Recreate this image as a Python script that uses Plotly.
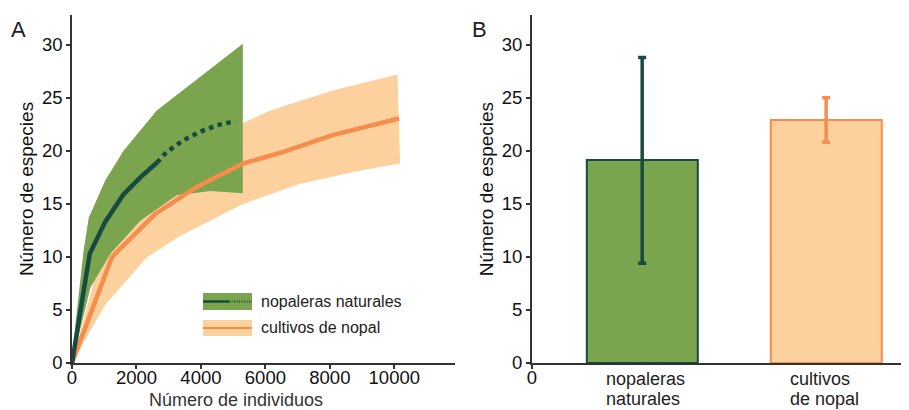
import plotly.graph_objects as go

# ---- Panel A data (rarefaction curves) ----
nat_upper_x = [0, 120, 360, 520, 1030, 1600, 2630, 3770, 5300]
nat_upper_y = [0, 4.0, 10.6, 13.7, 17.2, 20.0, 23.8, 26.5, 30.1]
nat_lower_x = [0, 570, 1190, 2120, 3250, 4290, 5300]
nat_lower_y = [0, 7.1, 10.3, 13.4, 15.8, 16.2, 16.0]
nat_obs_x = [0, 550, 1030, 1600, 2120, 2640]
nat_obs_y = [0, 10.3, 13.3, 15.9, 17.5, 18.9]
nat_ext_x = [2640, 2940, 3460, 3980, 4490, 5060]
nat_ext_y = [18.9, 19.9, 21.0, 21.8, 22.4, 22.8]

cul_x = [0, 1240, 2580, 3870, 5300, 6560, 8110, 9140, 10150]
cul_y = [0, 10.0, 14.05, 16.6, 18.8, 19.9, 21.5, 22.3, 23.05]
cul_upper_x = [0, 1100, 2100, 3400, 5300, 6150, 8110, 9140, 10100]
cul_upper_y = [0, 12.5, 16.5, 19.5, 22.6, 23.8, 25.7, 26.5, 27.2]
cul_lower_x = [0, 1030, 2320, 3360, 5320, 7080, 9040, 10180]
cul_lower_y = [0, 5.5, 9.95, 12.0, 15.0, 16.9, 18.2, 18.8]

x_ticks = [0, 2000, 4000, 6000, 8000, 10000]
y_ticks = [0, 5, 10, 15, 20, 25, 30]

# ---- Panel B data ----
categories = [["nopaleras", "naturales"], ["cultivos", "de nopal"]]
cat_pos = [1, 2]
means = [19.1, 22.9]
errors = [9.7, 2.1]

GREEN = "#7ba44f"
DARK = "#174a40"
ORANGE = "#f78c4c"
LIGHT = "#fdd19e"
AXC = "#333333"
FONT = "Liberation Sans, Arial, sans-serif"

fig = go.Figure()

fig.add_trace(go.Scatter(
    x=cul_upper_x + cul_lower_x[::-1], y=cul_upper_y + cul_lower_y[::-1],
    fill="toself", fillcolor=LIGHT, line=dict(width=0), mode="lines",
    showlegend=False, hoverinfo="skip", xaxis="x", yaxis="y"))
fig.add_trace(go.Scatter(
    x=nat_upper_x + nat_lower_x[::-1], y=nat_upper_y + nat_lower_y[::-1],
    fill="toself", fillcolor=GREEN, line=dict(width=0), mode="lines",
    showlegend=False, hoverinfo="skip", xaxis="x", yaxis="y"))
fig.add_trace(go.Scatter(x=cul_x, y=cul_y, mode="lines",
                         line=dict(color=ORANGE, width=4.5),
                         showlegend=False, xaxis="x", yaxis="y"))
fig.add_trace(go.Scatter(x=nat_obs_x, y=nat_obs_y, mode="lines",
                         line=dict(color=DARK, width=4.5),
                         showlegend=False, xaxis="x", yaxis="y"))
fig.add_trace(go.Scatter(x=nat_ext_x, y=nat_ext_y, mode="lines",
                         line=dict(color=DARK, width=4.5, dash="4.5px,4.5px"),
                         showlegend=False, xaxis="x", yaxis="y"))

fig.add_trace(go.Bar(x=[cat_pos[0]], y=[means[0]], width=0.6,
                     marker=dict(color=GREEN, line=dict(color=DARK, width=2)),
                     error_y=dict(type="data", array=[errors[0]], color=DARK,
                                  thickness=3.5, width=4),
                     showlegend=False, xaxis="x2", yaxis="y2"))
fig.add_trace(go.Bar(x=[cat_pos[1]], y=[means[1]], width=0.6,
                     marker=dict(color=LIGHT, line=dict(color=ORANGE, width=2)),
                     error_y=dict(type="data", array=[errors[1]], color=ORANGE,
                                  thickness=3.5, width=4),
                     showlegend=False, xaxis="x2", yaxis="y2"))

axis_common = dict(showline=True, linecolor=AXC, linewidth=1.5, showgrid=False,
                   zeroline=False, ticks="outside", ticklen=4, tickcolor=AXC,
                   tickwidth=1.5, tickfont=dict(size=18.5, color="#111"),
                   automargin=False)

# page has an 8px body margin; figure is sized/placed to compensate
fig.update_layout(
    width=901, height=402,
    margin=dict(l=64, r=1, t=7, b=47),
    paper_bgcolor="white", plot_bgcolor="white",
    font=dict(family=FONT, color="#111"),
    bargap=0,
    xaxis=dict(domain=[0, 0.458], range=[0, 11880], tickvals=x_ticks, tickformat="d",
               ticklabelstandoff=-7, anchor="y", **axis_common),
    yaxis=dict(domain=[0, 1], range=[0, 32.8], tickvals=y_ticks,
               title=dict(text="Número de especies", font=dict(size=19), standoff=3),
               anchor="x", **axis_common),
    xaxis2=dict(domain=[0.550, 1], range=[0.4, 2.445],
                tickvals=[0.4], ticktext=["0"], ticklabelstandoff=-7,
                anchor="y2", showline=True, linecolor=AXC, linewidth=1.5,
                showgrid=False, zeroline=False, ticks="outside", ticklen=4,
                tickcolor=AXC, tickwidth=1.5, automargin=False,
                tickfont=dict(size=18.5, color="#111")),
    yaxis2=dict(domain=[0, 1], range=[0, 32.8], tickvals=y_ticks,
                title=dict(text="Número de especies", font=dict(size=19), standoff=3),
                anchor="x2", **axis_common),
)

def px_x(p):
    return (p - 72) / 836

def px_y(p):
    return (363 - p) / 348

shapes = [
    dict(type="rect", xref="paper", yref="paper", x0=px_x(203), x1=px_x(252),
         y0=px_y(310), y1=px_y(293), fillcolor=GREEN, line=dict(width=0)),
    dict(type="line", xref="paper", yref="paper", x0=px_x(203), x1=px_x(229),
         y0=px_y(301.5), y1=px_y(301.5), line=dict(color=DARK, width=2.5)),
    dict(type="line", xref="paper", yref="paper", x0=px_x(229), x1=px_x(252),
         y0=px_y(301.5), y1=px_y(301.5), line=dict(color=DARK, width=2, dash="1px,1.5px")),
    dict(type="rect", xref="paper", yref="paper", x0=px_x(203), x1=px_x(252),
         y0=px_y(336), y1=px_y(320), fillcolor=LIGHT, line=dict(width=0)),
    dict(type="line", xref="paper", yref="paper", x0=px_x(203), x1=px_x(252),
         y0=px_y(328), y1=px_y(328), line=dict(color=ORANGE, width=2)),
]
fig.update_layout(shapes=shapes)

annotations = [
    dict(text="nopaleras naturales", xref="paper", yref="paper", x=px_x(259), y=px_y(301.5),
         xanchor="left", yanchor="middle", showarrow=False, font=dict(size=16, color="#222")),
    dict(text="cultivos de nopal", xref="paper", yref="paper", x=px_x(259), y=px_y(327),
         xanchor="left", yanchor="middle", showarrow=False, font=dict(size=16, color="#222")),
    dict(text="A", xref="paper", yref="paper", x=px_x(9), y=px_y(15),
         xanchor="left", yanchor="top", showarrow=False, font=dict(size=22, color="#222")),
    dict(text="B", xref="paper", yref="paper", x=px_x(470), y=px_y(15),
         xanchor="left", yanchor="top", showarrow=False, font=dict(size=22, color="#222")),
    dict(text="Número de individuos", xref="paper", yref="paper", x=px_x(236), y=px_y(399.5),
         xanchor="center", yanchor="middle", showarrow=False, font=dict(size=18, color="#333")),
]
# category labels for panel B (two left-aligned lines each)
line_y = [px_y(378.5), px_y(399)]
for pos, lines in zip(cat_pos, categories):
    for k, txt in enumerate(lines):
        annotations.append(dict(text=txt, xref="x2", yref="paper", x=pos - 0.21, y=line_y[k],
                                xanchor="left", yanchor="middle", showarrow=False,
                                font=dict(size=18, color="#222")))
fig.update_layout(annotations=annotations)

fig.write_html("out.html")
